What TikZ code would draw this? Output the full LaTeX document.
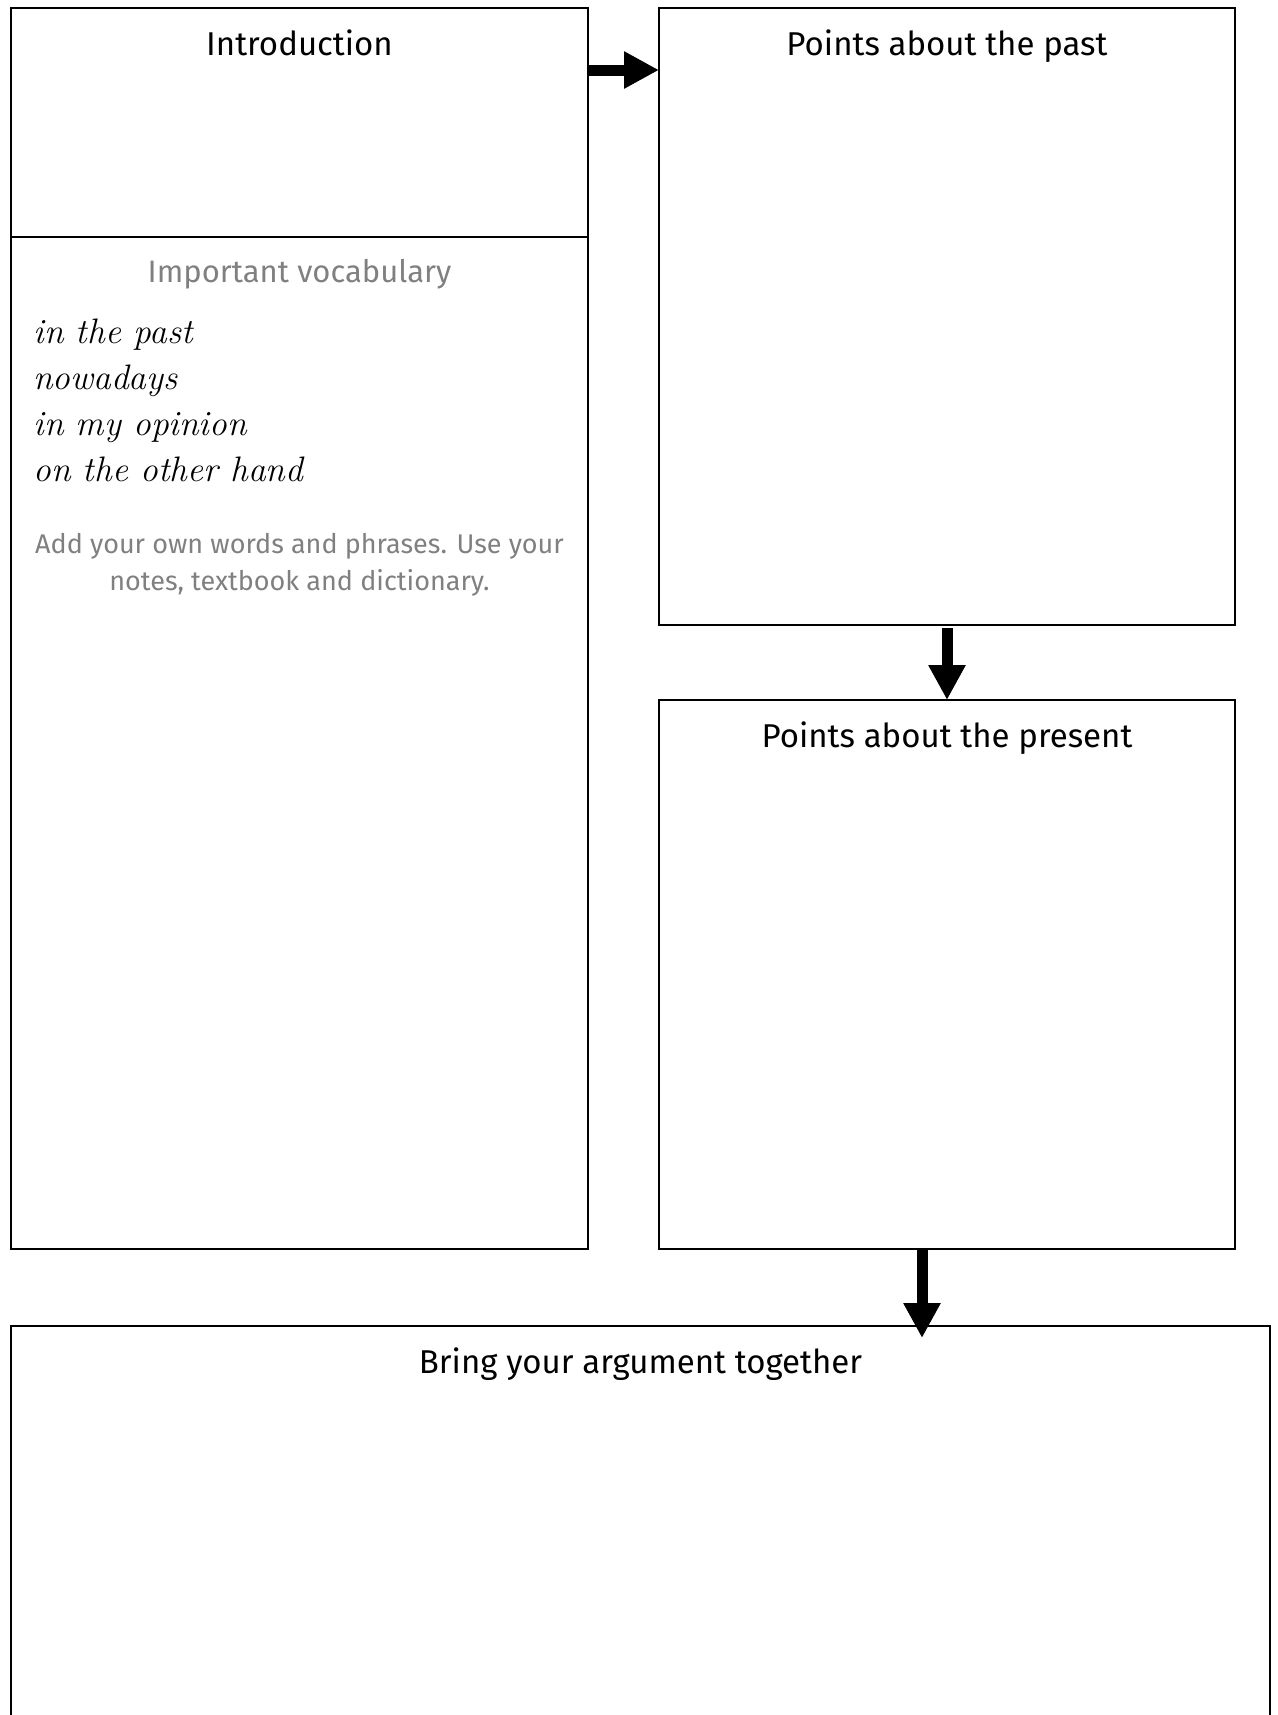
\documentclass[tikz,border=0pt]{standalone}
\usepackage{fontspec}
\setsansfont{Fira Sans}
\usetikzlibrary{positioning,calc,arrows.meta}
\definecolor{hintgray}{HTML}{808080}

\begin{document}
\begin{tikzpicture}[
    x=0.5pt, y=-0.5pt,
    panel/.style={draw, rectangle, line width=0.9pt, inner sep=0pt, outer sep=0pt, anchor=north west},
    heading/.style={font=\sffamily\fontsize{16.5}{19}\selectfont, anchor=base, inner sep=0pt},
    hint/.style={font=\sffamily\fontsize{13.5}{16}\selectfont, text=hintgray, anchor=base, inner sep=0pt},
    hand/.style={font=\rmfamily\itshape\fontsize{17.7}{21}\selectfont, anchor=base west, inner sep=0pt},
    blockarrow/.style={-{Triangle[width=17.5pt, length=17.5pt]}, line width=5.5pt}
]
\clip (0,0) rectangle (1278,1715);

% Panels
\node[panel, minimum width=288.5pt, minimum height=114.5pt] (intro) at (11,8) {};
\node[panel, minimum width=288.5pt, minimum height=506pt] (vocab) at (11,237) {};
\node[panel, minimum width=288pt, minimum height=308.5pt] (past) at (659,8) {};
\node[panel, minimum width=288pt, minimum height=274.5pt] (present) at (659,700) {};
\node[panel, minimum width=629.5pt, minimum height=215pt] (bring) at (11,1326) {};

% Headings
\node[heading] (introhead) at ($(intro.north)+(0,47)$) {Introduction};
\node[heading] (pasthead) at ($(past.north)+(0,47)$) {Points about the past};
\node[heading] (presenthead) at ($(present.north)+(0,47)$) {Points about the present};
\node[heading] (bringhead) at ($(bring.north)+(0,47)$) {Bring your argument together};

% Vocabulary
\node[hint, font=\sffamily\fontsize{15.5}{18}\selectfont] (vocabhead) at ($(vocab.north)+(0,45)$) {Important vocabulary};
\foreach \w [count=\i] in {in the past, nowadays, in my opinion, on the other hand}
    \node[hand] (word\i) at (33,297+46*\i) {\w};
\node[hint] (note1) at ($(vocab.north)+(0,316)$) {Add your own words and phrases. Use your};
\node[hint] (note2) at ($(vocab.north)+(0,353)$) {notes, textbook and dictionary.};

% Arrows
\draw[blockarrow] ($(intro.north east)+(0,62)$) -- ($(past.north west)+(0,62)$);
\draw[blockarrow] ($(past.south)+(0,3)$) -- (present.north);
\draw[blockarrow] ($(present.south)+(-25,0)$) -- ($(present.south |- bring.north)+(-25,12)$);

\end{tikzpicture}
\end{document}
